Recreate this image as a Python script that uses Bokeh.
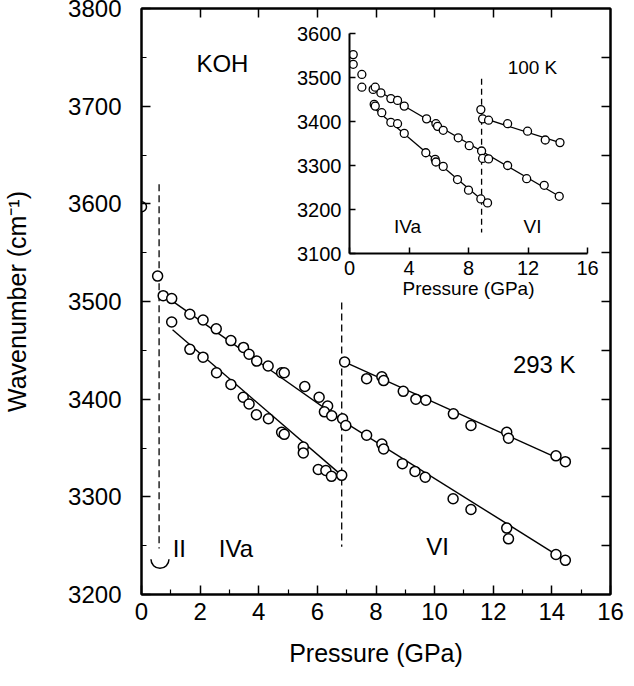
import numpy as np
from bokeh.plotting import figure
from bokeh.layouts import column
from bokeh.models import LinearAxis, Range1d, FixedTicker, ColumnDataSource
from bokeh.embed import file_html
from bokeh.resources import INLINE
from bokeh.core.properties import value

FONT = "Liberation Sans"

# ---------------- main panel data (293 K) ----------------
phase2_x = [0.0, 0.55]
phase2_y = [3597, 3526]

iva_up_x = [0.74, 1.03, 1.65, 2.10, 2.55, 3.05, 3.48, 3.67, 3.93, 4.32, 4.78, 4.87, 5.57, 6.06, 6.35, 6.24, 6.49, 6.86]
iva_up_y = [3506, 3503, 3487, 3481, 3472, 3460, 3453, 3446, 3439, 3434, 3427, 3427, 3413, 3402, 3393, 3387, 3383, 3380]

iva_lo_x = [1.03, 1.65, 2.10, 2.56, 3.05, 3.47, 3.67, 3.92, 4.33, 4.78, 4.87, 5.52, 5.52, 6.03, 6.29, 6.48, 6.83]
iva_lo_y = [3479, 3451, 3443, 3427, 3415, 3402, 3395, 3384, 3380, 3366, 3364, 3351, 3345, 3328, 3327, 3321, 3322]

vi_up_x = [6.93, 7.68, 8.20, 8.26, 8.93, 9.36, 9.70, 10.64, 11.24, 12.46, 12.52, 14.14, 14.46]
vi_up_y = [3438, 3421, 3423, 3419, 3408, 3400, 3399, 3385, 3373, 3366, 3360, 3342, 3336]

vi_lo_x = [6.97, 7.68, 8.20, 8.26, 8.90, 9.33, 9.68, 10.63, 11.24, 12.46, 12.52, 14.14, 14.46]
vi_lo_y = [3373, 3363, 3354, 3349, 3334, 3326, 3320, 3298, 3287, 3268, 3257, 3241, 3235]

# fitted lines (start, end)
fit_x0 = [0.74, 1.06, 6.94, 6.95]
fit_y0 = [3507, 3471, 3438, 3376]
fit_x1 = [6.95, 6.83, 14.46, 14.46]
fit_y1 = [3376, 3322, 3336, 3235]

# phase boundaries
bound_x = [0.60, 6.83]
bound_top = [3620, 3499]
bound_bot = [3247, 3249]

main_labels = ["KOH", "293 K", "II", "IVa", "VI"]
main_lab_x = [2.76, 13.74, 1.29, 3.22, 10.1]
main_lab_y = [3744, 3436, 3247, 3247, 3249]

# ---------------- inset data (100 K) ----------------
in_a_x = [0.25, 0.25, 0.83, 0.83, 1.59, 1.73, 2.11, 2.78, 3.23, 3.68, 5.18, 5.81, 5.92, 6.30, 7.31, 8.05, 8.88]
in_a_y = [3552, 3530, 3507, 3478, 3473, 3478, 3465, 3452, 3448, 3435, 3406, 3395, 3389, 3380, 3363, 3345, 3333]

in_b_x = [1.66, 1.73, 2.17, 2.78, 3.23, 3.68, 5.13, 5.76, 5.81, 6.30, 7.26, 8.00, 8.83, 9.28]
in_b_y = [3439, 3435, 3420, 3398, 3395, 3373, 3329, 3314, 3308, 3298, 3268, 3244, 3224, 3215]

in_c_x = [8.83, 8.95, 9.35, 10.63, 11.97, 13.16, 14.15]
in_c_y = [3427, 3406, 3403, 3395, 3378, 3358, 3352]

in_d_x = [8.95, 9.35, 10.63, 11.91, 13.09, 14.10]
in_d_y = [3316, 3315, 3300, 3270, 3255, 3230]

in_fit_x0 = [1.6, 1.7, 8.95]
in_fit_y0 = [3476, 3429, 3408]
in_fit_x1 = [14.1, 9.1, 14.15]
in_fit_y1 = [3230, 3216, 3352]

in_bound_x = [8.88]
in_bound_top = [3497]
in_bound_bot = [3148]

in_labels = ["100 K", "IVa", "VI"]
in_lab_x = [12.3, 3.9, 12.3]
in_lab_y = [3522, 3162, 3162]

W, H = 626, 684
B_LEFT, B_RIGHT = 141, 16          # shared left/right borders (column aligns them)


def style_axis(ax, size, standoff, title_size=None, title_standoff=None, show_labels=True):
    ax.axis_line_width = 2
    ax.axis_line_color = "black"
    ax.major_tick_in = 9
    ax.major_tick_out = 0
    ax.minor_tick_in = 5
    ax.minor_tick_out = 0
    ax.major_tick_line_width = 1.5
    ax.minor_tick_line_width = 1.2
    ax.major_label_text_font = FONT
    ax.major_label_text_font_size = size
    ax.major_label_text_color = "black" if show_labels else None
    ax.major_label_standoff = standoff
    if title_size:
        ax.axis_label_text_font = FONT
        ax.axis_label_text_font_size = title_size
        ax.axis_label_text_font_style = "normal"
        ax.axis_label_text_color = "black"
        ax.axis_label_standoff = title_standoff


# ---------------- main figure (page top edge at canvas y = 0) ----------------
p = figure(width=W, height=H, x_range=Range1d(0, 16), y_range=Range1d(3200, 3800),
           output_backend="svg", toolbar_location=None,
           min_border_left=B_LEFT, min_border_right=B_RIGHT, min_border_top=16,
           min_border_bottom=H - 602,
           x_axis_label="Pressure (GPa)", y_axis_label="Wavenumber (cm⁻¹)")
p.xgrid.visible = False
p.ygrid.visible = False
p.outline_line_color = "black"
p.outline_line_width = 2

p.xaxis.ticker = FixedTicker(ticks=list(range(0, 17, 2)), minor_ticks=list(range(1, 16, 2)))
p.yaxis.ticker = FixedTicker(ticks=list(range(3200, 3801, 100)), minor_ticks=list(range(3250, 3800, 100)))
style_axis(p.xaxis[0], "24px", 8, "25px", 16)
style_axis(p.yaxis[0], "24px", 20, "25px", 34)

top_ax = LinearAxis(ticker=FixedTicker(ticks=list(range(2, 16, 2)), minor_ticks=[]))
style_axis(top_ax, "10px", 2, show_labels=False)
p.add_layout(top_ax, "above")
right_ax = LinearAxis(ticker=FixedTicker(ticks=list(range(3250, 3800, 50)), minor_ticks=[]))
style_axis(right_ax, "10px", 2, show_labels=False)
p.add_layout(right_ax, "right")

seg = ColumnDataSource(dict(x0=fit_x0, y0=fit_y0, x1=fit_x1, y1=fit_y1))
p.segment("x0", "y0", "x1", "y1", source=seg, line_color="black", line_width=1.4)
bsrc = ColumnDataSource(dict(x=bound_x, t=bound_top, b=bound_bot))
p.segment("x", "t", "x", "b", source=bsrc, line_color="black", line_width=1.3, line_dash="7 4")
p.arc(x=[bound_x[0] + 0.03], y=[bound_bot[0] - 11], radius=9, radius_units="screen",
      start_angle=np.pi, end_angle=2 * np.pi, line_color="black", line_width=1.5)

for xs, ys in [(phase2_x, phase2_y), (iva_up_x, iva_up_y), (iva_lo_x, iva_lo_y), (vi_up_x, vi_up_y), (vi_lo_x, vi_lo_y)]:
    p.scatter(xs, ys, marker="circle", size=10, fill_color="white", line_color="black", line_width=1.5)

p.text(x=main_lab_x, y=main_lab_y, text=main_labels, text_font=value(FONT), text_font_size="24px",
       text_align="center", text_baseline="middle", text_color="black")

# ---------------- inset figure (overlaid, absolutely positioned) ----------------
IN_W = B_LEFT + 238 + B_RIGHT
IN_H = 320
ins = figure(width=IN_W, height=IN_H, x_range=Range1d(0, 16), y_range=Range1d(3100, 3600),
             output_backend="svg", toolbar_location=None,
             min_border_left=B_LEFT, min_border_right=B_RIGHT, min_border_top=33, min_border_bottom=IN_H - 253,
             x_axis_label="Pressure (GPa)")
ins.styles = {"position": "absolute", "left": f"{349 - B_LEFT}px", "top": "8px"}
ins.xgrid.visible = False
ins.ygrid.visible = False
ins.outline_line_color = None
ins.background_fill_alpha = 0
ins.border_fill_alpha = 0
ins.xaxis.ticker = FixedTicker(ticks=[0, 4, 8, 12, 16], minor_ticks=[2, 6, 10, 14])
ins.yaxis.ticker = FixedTicker(ticks=list(range(3100, 3601, 100)), minor_ticks=list(range(3150, 3600, 100)))
style_axis(ins.xaxis[0], "20px", 7, "19px", 0)
style_axis(ins.yaxis[0], "20px", 8)
for ax in (ins.xaxis[0], ins.yaxis[0]):
    ax.major_tick_in = 6
    ax.minor_tick_in = 0

iseg = ColumnDataSource(dict(x0=in_fit_x0, y0=in_fit_y0, x1=in_fit_x1, y1=in_fit_y1))
ins.segment("x0", "y0", "x1", "y1", source=iseg, line_color="black", line_width=1.3)
ibsrc = ColumnDataSource(dict(x=in_bound_x, t=in_bound_top, b=in_bound_bot))
ins.segment("x", "t", "x", "b", source=ibsrc, line_color="black", line_width=1.3, line_dash="6 4")
for xs, ys in [(in_a_x, in_a_y), (in_b_x, in_b_y), (in_c_x, in_c_y), (in_d_x, in_d_y)]:
    ins.scatter(xs, ys, marker="circle", size=8, fill_color="white", line_color="black", line_width=1.3)
ins.text(x=in_lab_x, y=in_lab_y, text=in_labels, text_font=value(FONT), text_font_size="19px",
         text_align="center", text_baseline="middle", text_color="black")

layout = column(p, ins)
layout.styles = {"margin-top": "-8px"}

open("out.html", "w").write(file_html(layout, INLINE))
